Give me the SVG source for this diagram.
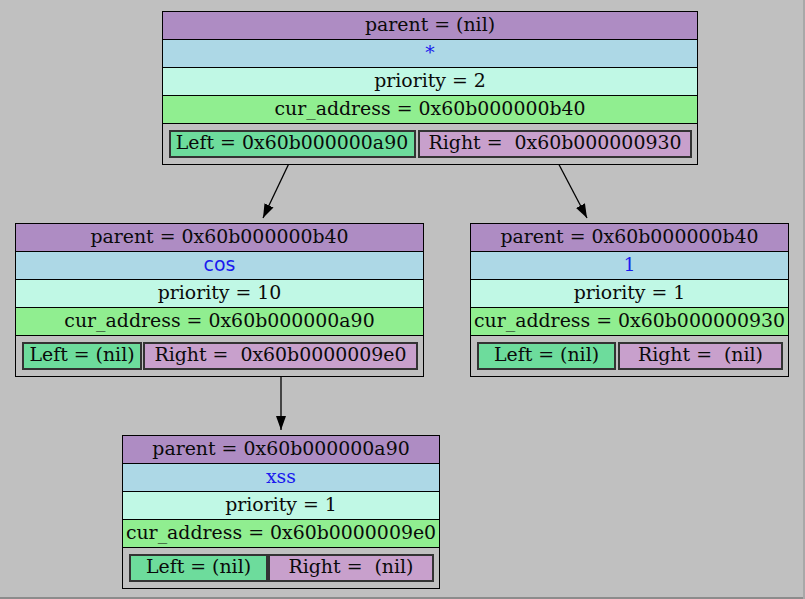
<svg xmlns="http://www.w3.org/2000/svg" width="805" height="599" viewBox="0 0 805 599">
<style>
text{font-family:"DejaVu Serif","Liberation Serif",serif;font-size:18.9px;fill:#0a0a0a;text-anchor:middle;white-space:pre}
.v{fill:#1a1aee}
.sans{font-family:"DejaVu Sans","Liberation Sans",sans-serif}
.box{fill:none;stroke:#000;stroke-width:1}
.r1{fill:#ae8cc3}
.r2{fill:#add8e6}
.r3{fill:#c0f8e5}
.r4{fill:#90ee90}
.r5{fill:#c0c0c0}
.sep{stroke:#000;stroke-width:1}
.L{fill:#6ddc9c;stroke:#333;stroke-width:2}
.R{fill:#c8a0cc;stroke:#333;stroke-width:2}
.e{stroke:#000;stroke-width:1.3;fill:none}
</style>
<defs>
<marker id="ah" viewBox="0 0 14 10" refX="14" refY="5" markerWidth="14" markerHeight="10" markerUnits="userSpaceOnUse" orient="auto">
<path d="M0,0 L14,5 L0,10 Z" fill="#000"/>
</marker>
</defs>
<rect x="0" y="0" width="805" height="599" fill="#c0c0c0"/>
<rect x="0" y="597" width="805" height="2" fill="#8c8c8c"/>
<rect x="803" y="0" width="2" height="599" fill="#a8a8a8"/>

<g id="connectors">
<line class="e" x1="292" y1="157" x2="263" y2="218" marker-end="url(#ah)"/>
<line class="e" x1="555" y1="157" x2="587" y2="218" marker-end="url(#ah)"/>
<line class="e" x1="281" y1="369" x2="281" y2="430" marker-end="url(#ah)"/>
</g>

<g id="node_root">
<rect class="r1" x="162.5" y="11.5" width="535" height="28"/>
<rect class="r2" x="162.5" y="39.5" width="535" height="28"/>
<rect class="r3" x="162.5" y="67.5" width="535" height="28"/>
<rect class="r4" x="162.5" y="95.5" width="535" height="28"/>
<rect class="r5" x="162.5" y="123.5" width="535" height="41"/>
<line class="sep" x1="162.5" y1="39.5" x2="697.5" y2="39.5"/>
<line class="sep" x1="162.5" y1="67.5" x2="697.5" y2="67.5"/>
<line class="sep" x1="162.5" y1="95.5" x2="697.5" y2="95.5"/>
<line class="sep" x1="162.5" y1="123.5" x2="697.5" y2="123.5"/>
<rect class="box" x="162.5" y="11.5" width="535" height="153"/>
<rect class="L" x="170" y="131" width="245" height="26"/>
<rect class="R" x="419" y="131" width="272" height="26"/>
<text x="430" y="31">parent = (nil)</text>
<text class="v" x="430" y="59">*</text>
<text x="430" y="87">priority = 2</text>
<text x="430" y="115">cur_address = 0x60b000000b40</text>
<text x="292" y="149">Left = 0x60b000000a90</text>
<text x="555" y="149">Right =  0x60b000000930</text>
</g>

<g id="node_cos">
<rect class="r1" x="15.5" y="223.5" width="408" height="28"/>
<rect class="r2" x="15.5" y="251.5" width="408" height="28"/>
<rect class="r3" x="15.5" y="279.5" width="408" height="28"/>
<rect class="r4" x="15.5" y="307.5" width="408" height="28"/>
<rect class="r5" x="15.5" y="335.5" width="408" height="41"/>
<line class="sep" x1="15.5" y1="251.5" x2="423.5" y2="251.5"/>
<line class="sep" x1="15.5" y1="279.5" x2="423.5" y2="279.5"/>
<line class="sep" x1="15.5" y1="307.5" x2="423.5" y2="307.5"/>
<line class="sep" x1="15.5" y1="335.5" x2="423.5" y2="335.5"/>
<rect class="box" x="15.5" y="223.5" width="408" height="153"/>
<rect class="L" x="23" y="343" width="118" height="26"/>
<rect class="R" x="144" y="343" width="273" height="26"/>
<text x="219.5" y="243">parent = 0x60b000000b40</text>
<text class="v sans" x="219.5" y="271">cos</text>
<text x="219.5" y="299">priority = 10</text>
<text x="219.5" y="327">cur_address = 0x60b000000a90</text>
<text x="82" y="361">Left = (nil)</text>
<text x="280.5" y="361">Right =  0x60b0000009e0</text>
</g>

<g id="node_1">
<rect class="r1" x="470.5" y="223.5" width="318" height="28"/>
<rect class="r2" x="470.5" y="251.5" width="318" height="28"/>
<rect class="r3" x="470.5" y="279.5" width="318" height="28"/>
<rect class="r4" x="470.5" y="307.5" width="318" height="28"/>
<rect class="r5" x="470.5" y="335.5" width="318" height="41"/>
<line class="sep" x1="470.5" y1="251.5" x2="788.5" y2="251.5"/>
<line class="sep" x1="470.5" y1="279.5" x2="788.5" y2="279.5"/>
<line class="sep" x1="470.5" y1="307.5" x2="788.5" y2="307.5"/>
<line class="sep" x1="470.5" y1="335.5" x2="788.5" y2="335.5"/>
<rect class="box" x="470.5" y="223.5" width="318" height="153"/>
<rect class="L" x="478" y="343" width="137" height="26"/>
<rect class="R" x="619" y="343" width="163" height="26"/>
<text x="629.5" y="243">parent = 0x60b000000b40</text>
<text class="v" x="629.5" y="271">1</text>
<text x="629.5" y="299">priority = 1</text>
<text x="629.5" y="327">cur_address = 0x60b000000930</text>
<text x="546.5" y="361">Left = (nil)</text>
<text x="700.5" y="361">Right =  (nil)</text>
</g>

<g id="node_xss">
<rect class="r1" x="122.5" y="435.5" width="317" height="28"/>
<rect class="r2" x="122.5" y="463.5" width="317" height="28"/>
<rect class="r3" x="122.5" y="491.5" width="317" height="28"/>
<rect class="r4" x="122.5" y="519.5" width="317" height="28"/>
<rect class="r5" x="122.5" y="547.5" width="317" height="41"/>
<line class="sep" x1="122.5" y1="463.5" x2="439.5" y2="463.5"/>
<line class="sep" x1="122.5" y1="491.5" x2="439.5" y2="491.5"/>
<line class="sep" x1="122.5" y1="519.5" x2="439.5" y2="519.5"/>
<line class="sep" x1="122.5" y1="547.5" x2="439.5" y2="547.5"/>
<rect class="box" x="122.5" y="435.5" width="317" height="153"/>
<rect class="L" x="130" y="555" width="137" height="26"/>
<rect class="R" x="269" y="555" width="164" height="26"/>
<text x="281" y="455">parent = 0x60b000000a90</text>
<text class="v" x="281" y="483">xss</text>
<text x="281" y="511">priority = 1</text>
<text x="281" y="539">cur_address = 0x60b0000009e0</text>
<text x="198.5" y="573">Left = (nil)</text>
<text x="351" y="573">Right =  (nil)</text>
</g>
</svg>
